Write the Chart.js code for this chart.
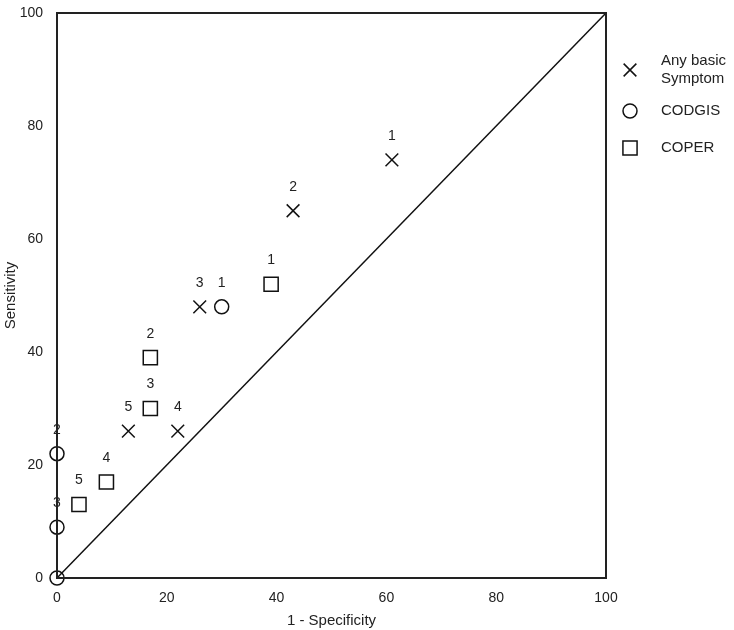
<!DOCTYPE html>
<html>
<head>
<meta charset="utf-8">
<script src="https://cdn.jsdelivr.net/npm/chart.js@4/dist/chart.umd.min.js"></script>
<style>
html,body{margin:0;padding:0;background:#fff;}
#wrap{width:734px;height:630px;}
</style>
</head>
<body>
<div id="wrap"><canvas id="c" width="734" height="630"></canvas></div>
<script>
const seriesNames = ["Any basic\nSymptom", "CODGIS", "COPER"];
const anyBasicX = [61, 43, 26, 22, 13];
const anyBasicY = [74, 65, 48, 26, 26];
const anyBasicLabels = ["1", "2", "3", "4", "5"];
const codgisX = [30, 0, 0, 0];
const codgisY = [48, 22, 9, 0];
const codgisLabels = ["1", "2", "3", ""];
const coperX = [39, 17, 17, 9, 4];
const coperY = [52, 39, 30, 17, 13];
const coperLabels = ["1", "2", "3", "4", "5"];
const refLineX = [0, 100];
const refLineY = [0, 100];
const axisTicks = [0, 20, 40, 60, 80, 100];

function pts(xs, ys) { return xs.map((x, i) => ({x: x, y: ys[i]})); }
const FONT = "'Liberation Sans', Arial, sans-serif";

const pointLabelPlugin = {
  id: 'pointLabels',
  afterDatasetsDraw(chart) {
    const ctx = chart.ctx;
    ctx.save();
    ctx.font = "14px " + FONT;
    ctx.fillStyle = "#222";
    ctx.textAlign = "center";
    ctx.textBaseline = "middle";
    chart.data.datasets.forEach((ds, di) => {
      if (!ds.pointLabels) return;
      const meta = chart.getDatasetMeta(di);
      meta.data.forEach((el, i) => {
        const t = ds.pointLabels[i];
        if (t) ctx.fillText(t, el.x, el.y - 24);
      });
    });
    ctx.restore();
  }
};

const frameAndLegendPlugin = {
  id: 'frameLegend',
  afterDraw(chart) {
    const ctx = chart.ctx;
    const a = chart.chartArea;
    ctx.save();
    ctx.strokeStyle = "#222";
    ctx.lineWidth = 2;
    ctx.strokeRect(a.left, a.top, a.right - a.left, a.bottom - a.top);
    // legend
    const lx = a.right + 24;
    const tx = a.right + 55;
    ctx.font = "15px " + FONT;
    ctx.textAlign = "left";
    ctx.textBaseline = "middle";
    const items = [
      {style: 'crossRot', r: 9, y: 57, lines: seriesNames[0].split("\n")},
      {style: 'circle', r: 7, y: 98, lines: [seriesNames[1]]},
      {style: 'rect', r: 10, y: 135, lines: [seriesNames[2]]}
    ];
    items.forEach(it => {
      const cy = a.top + it.y;
      ctx.lineWidth = 1.5;
      ctx.strokeStyle = "#111";
      ctx.fillStyle = "rgba(0,0,0,0)";
      Chart.helpers.drawPoint(ctx, {pointStyle: it.style, radius: it.r, rotation: 0, borderWidth: 1.5}, lx, cy);
      ctx.fillStyle = "#222";
      const n = it.lines.length;
      it.lines.forEach((ln, k) => {
        ctx.fillText(ln, tx, cy + (k - (n - 1) / 2) * 18);
      });
    });
    ctx.restore();
  }
};

new Chart(document.getElementById('c'), {
  type: 'scatter',
  data: {
    datasets: [
      {
        type: 'line',
        data: pts(refLineX, refLineY),
        borderColor: '#111',
        borderWidth: 1.5,
        pointRadius: 0,
        fill: false
      },
      {
        label: seriesNames[0],
        data: pts(anyBasicX, anyBasicY),
        pointStyle: 'crossRot',
        pointRadius: 9,
        borderColor: '#111',
        backgroundColor: 'transparent',
        pointBorderWidth: 1.5,
        pointLabels: anyBasicLabels
      },
      {
        label: seriesNames[1],
        data: pts(codgisX, codgisY),
        pointStyle: 'circle',
        pointRadius: 7,
        borderColor: '#111',
        backgroundColor: 'transparent',
        pointBorderWidth: 1.5,
        pointLabels: codgisLabels
      },
      {
        label: seriesNames[2],
        data: pts(coperX, coperY),
        pointStyle: 'rect',
        pointRadius: 10,
        borderColor: '#111',
        backgroundColor: 'transparent',
        pointBorderWidth: 1.5,
        pointLabels: coperLabels
      }
    ]
  },
  options: {
    responsive: false,
    animation: false,
    clip: false,
    layout: {padding: {top: 13, right: 128, bottom: 0, left: 0}},
    plugins: {legend: {display: false}, tooltip: {enabled: false}},
    scales: {
      x: {
        type: 'linear', min: 0, max: 100,
        grid: {display: false, drawTicks: false},
        border: {display: false},
        afterBuildTicks: s => { s.ticks = axisTicks.map(v => ({value: v})); },
        afterFit: s => { s.height = 52; s.paddingLeft = 0; s.paddingRight = 0; },
        ticks: {font: {size: 14, family: FONT}, color: '#222', padding: 12},
        title: {display: true, text: '1 - Specificity', font: {size: 15, family: FONT}, color: '#222', padding: {top: 5, bottom: 0}}
      },
      y: {
        type: 'linear', min: 0, max: 100,
        grid: {display: false, drawTicks: false},
        border: {display: false},
        afterBuildTicks: s => { s.ticks = axisTicks.map(v => ({value: v})); },
        afterFit: s => { s.width = 57; s.paddingTop = 0; s.paddingBottom = 0; },
        ticks: {font: {size: 14, family: FONT}, color: '#222', padding: 14},
        title: {display: true, text: 'Sensitivity', font: {size: 15, family: FONT}, color: '#222', padding: {top: 2, bottom: 0}}
      }
    }
  },
  plugins: [pointLabelPlugin, frameAndLegendPlugin]
});
</script>
</body>
</html>
